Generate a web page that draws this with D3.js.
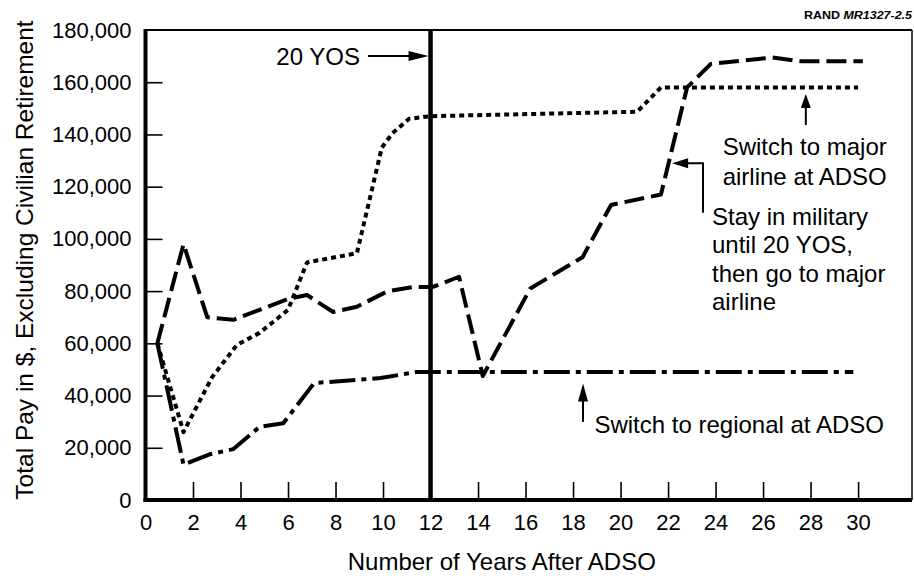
<!DOCTYPE html>
<html>
<head>
<meta charset="utf-8">
<script src="https://cdn.jsdelivr.net/npm/d3@7"></script>
<style>
    body { margin: 0; background: #fff; }
    svg { display: block; font-family: "Liberation Sans", Arial, Helvetica, sans-serif; }
</style>
</head>
<body>
<svg id="chart" width="914" height="576"></svg>
<script>
/**
 * Data: [years after ADSO, total pay in $].
 */
const militaryThenMajor = [
    [0.5, 60000], [1.6, 98000], [2.6, 70000], [3.7, 69000], [6.0, 77000], [6.8, 78500],
    [7.9, 72000], [8.9, 74000], [10.2, 80000], [11.3, 81600], [12.1, 81600], [13.2, 85500],
    [14.2, 47500], [16.2, 81000], [18.4, 93000], [19.6, 113000], [21.7, 117000], [22.8, 158000],
    [23.8, 167000], [25.9, 169000], [26.4, 169500], [27.6, 168000], [30.2, 168000]
];
const majorAtAdso = [
    [0.5, 60000], [1.6, 26000], [2.8, 47000], [3.85, 59400], [4.8, 64000], [6.0, 72800],
    [6.8, 91000], [8.9, 94500], [9.95, 135000], [10.4, 140500], [11.1, 146000], [12, 147000],
    [20.7, 148700], [21.7, 158000], [30, 158000]
];
const regionalAtAdso = [
    [0.5, 60000], [1.6, 13500], [2.7, 17500], [3.7, 19500], [4.8, 28000], [5.8, 29400],
    [7.1, 44800], [9.9, 46700], [11.4, 49000], [29.8, 49000]
];

const xTickValues = d3.range(0, 31, 2);   // 0, 2, ..., 30
const yTickValues = d3.range(0, 180001, 20000);
const yosYear = 12; // 20 years of service

const labelTexts = {
    yos: ['20 YOS'],
    major: ['Switch to major', 'airline at ADSO'],
    military: ['Stay in military', 'until 20 YOS,', 'then go to major', 'airline'],
    regional: ['Switch to regional at ADSO']
};

/**
 * Visual configs.
 */
const frame = { left: 145.5, right: 912, top: 30, bottom: 500 },
    lineWidth = 4,
    dashes = { military: '20,7', major: '5,4', regional: '26,6,5,6' };

const svg = d3.select('#chart');

const x = d3.scaleLinear()
    .domain([0, 32.27])
    .range([frame.left, frame.right]);
const y = d3.scaleLinear()
    .domain([0, 180000])
    .range([frame.bottom, frame.top]);

const line = d3.line()
    .x(d => x(d[0]))
    .y(d => y(d[1]));

/**
 * Axes (ticks point inside the frame).
 */
const yAxis = svg.append('g')
    .attr('transform', 'translate(' + frame.left + ',0)')
    .call(d3.axisLeft(y).tickValues(yTickValues).tickSize(-17).tickPadding(14)
        .tickFormat(d3.format(',')));
const xAxis = svg.append('g')
    .attr('transform', 'translate(0,' + frame.bottom + ')')
    .call(d3.axisBottom(x).tickValues(xTickValues).tickSize(-18).tickPadding(14));

[yAxis, xAxis].forEach(g => {
    g.select('.domain').remove();
    g.attr('font-family', null).attr('font-size', 22);
    g.selectAll('.tick line').attr('stroke', '#000').attr('stroke-width', 1.6);
    g.selectAll('.tick text').attr('fill', '#000');
});
yAxis.selectAll('.tick').filter(d => d === 0 || d === 180000).select('line').remove();
xAxis.selectAll('.tick').filter(d => d === 0).select('line').remove();

// Axis titles
svg.append('text')
    .attr('x', x(15))
    .attr('y', 570)
    .attr('text-anchor', 'middle')
    .attr('font-size', 24)
    .text('Number of Years After ADSO');
svg.append('text')
    .attr('transform', 'translate(33,' + (y(90000) - 5) + ') rotate(-90)')
    .attr('text-anchor', 'middle')
    .attr('font-size', 24.5)
    .text('Total Pay in $, Excluding Civilian Retirement');

// Figure id
const rand = svg.append('text')
    .attr('x', frame.right)
    .attr('y', 19)
    .attr('text-anchor', 'end')
    .attr('font-size', 10)
    .attr('font-weight', 'bold')
    .attr('textLength', 108)
    .attr('lengthAdjust', 'spacingAndGlyphs');
rand.append('tspan').text('RAND ');
rand.append('tspan').attr('font-style', 'italic').text('MR1327-2.5');

/**
 * Lines.
 */
const series = [
    { key: 'military', values: militaryThenMajor },
    { key: 'major', values: majorAtAdso },
    { key: 'regional', values: regionalAtAdso }
];

svg.append('g').attr('class', 'lines')
    .selectAll('path')
    .data(series)
    .enter().append('path')
    .attr('d', d => line(d.values))
    .attr('fill', 'none')
    .attr('stroke', '#000')
    .attr('stroke-width', lineWidth)
    .attr('stroke-linejoin', 'round')
    .attr('stroke-dasharray', d => dashes[d.key]);

// 20 YOS marker
svg.append('line')
    .attr('x1', x(yosYear)).attr('x2', x(yosYear))
    .attr('y1', frame.top).attr('y2', frame.bottom)
    .attr('stroke', '#000')
    .attr('stroke-width', 4.5);

/**
 * Frame.
 */
const border = svg.append('g').attr('stroke', '#000');
border.append('line').attr('x1', frame.left).attr('x2', frame.left)
    .attr('y1', frame.top - 1).attr('y2', frame.bottom + 2).attr('stroke-width', 4);
border.append('line').attr('x1', frame.left - 2).attr('x2', frame.right)
    .attr('y1', frame.bottom).attr('y2', frame.bottom).attr('stroke-width', 4);
border.append('line').attr('x1', frame.left).attr('x2', frame.right)
    .attr('y1', frame.top).attr('y2', frame.top).attr('stroke-width', 2);
border.append('line').attr('x1', frame.right).attr('x2', frame.right)
    .attr('y1', frame.top).attr('y2', frame.bottom).attr('stroke-width', 1.5);

/**
 * Annotations.
 */
const notes = svg.append('g').attr('class', 'notes').attr('font-size', 24);

// Filled arrow head with its tip at (tx, ty), pointing in direction (dx, dy)
function arrowHead(tx, ty, dx, dy, len, half) {
    const bx = tx - dx * len, by = ty - dy * len;
    const px = -dy * half, py = dx * half;
    notes.append('path')
        .attr('d', 'M' + tx + ',' + ty + 'L' + (bx + px) + ',' + (by + py) +
            'L' + (bx - px) + ',' + (by - py) + 'Z')
        .attr('fill', '#000');
}

function shaft(points) {
    notes.append('path')
        .attr('d', d3.line()(points))
        .attr('fill', 'none')
        .attr('stroke', '#000')
        .attr('stroke-width', 2);
}

function textBlock(lines, px, py, anchor, spacing) {
    notes.append('text')
        .attr('text-anchor', anchor)
        .selectAll('tspan')
        .data(lines)
        .enter().append('tspan')
        .attr('x', px)
        .attr('y', (d, i) => py + i * spacing)
        .text(d => d);
}

// "20 YOS" -> vertical line
const yosY = y(170000);
shaft([[x(9.37), yosY], [x(yosYear) - 12, yosY]]);
arrowHead(x(yosYear) - 2, yosY, 1, 0, 20, 5);
textBlock(labelTexts.yos, x(9.03), yosY + 9, 'end', 0);

// Switch to major airline at ADSO
shaft([[x(27.8), y(143600)], [x(27.8), y(152000)]]);
arrowHead(x(27.8), y(155500), 0, -1, 14, 5);
textBlock(labelTexts.major, x(24.3), y(132100), 'start', 30);

// Stay in military until 20 YOS
shaft([[x(23.47), y(110000)], [x(23.47), y(129000)], [x(22.6), y(129000)]]);
arrowHead(x(22.17), y(129000), -1, 0, 16, 5);
textBlock(labelTexts.military, x(23.85), y(105300), 'start', 28.3);

// Switch to regional at ADSO
shaft([[x(18.42), y(29900)], [x(18.42), y(40000)]]);
arrowHead(x(18.42), y(44600), 0, -1, 18, 5);
textBlock(labelTexts.regional, x(18.9), y(25700), 'start', 0);
</script>
</body>
</html>
